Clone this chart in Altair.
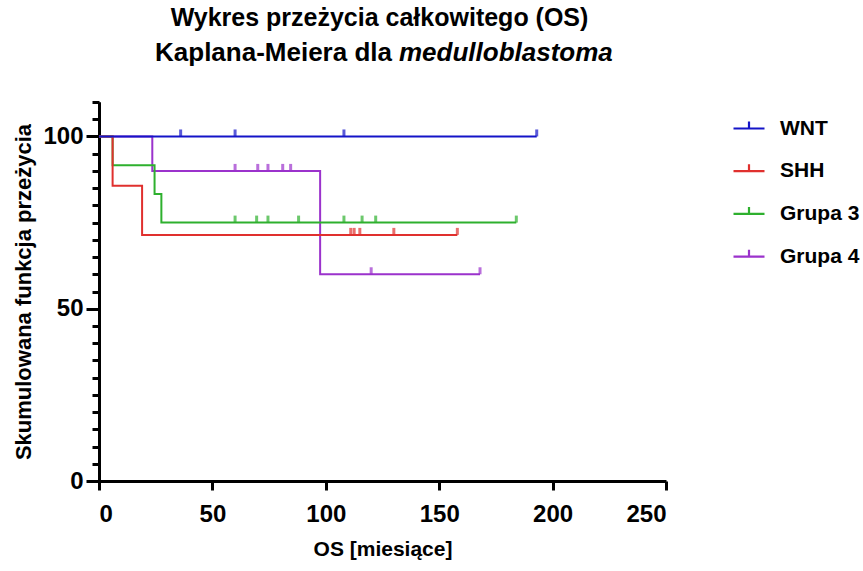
import altair as alt
import pandas as pd

FONT = "Liberation Sans, Arial, sans-serif"

groups = ["WNT", "SHH", "Grupa 3", "Grupa 4"]
colors = ["#1414C8", "#E0302E", "#2EB02E", "#9B32CC"]

# Kaplan-Meier step vertices (time in months, cumulative survival %)
wnt_t = [0, 193]
wnt_s = [100, 100]
shh_t = [0, 6, 19, 158]
shh_s = [100, 85.71, 71.43, 71.43]
g3_t = [0, 6, 24.5, 27.5, 184]
g3_s = [100, 91.67, 83.33, 75, 75]
g4_t = [0, 23.5, 97.5, 168]
g4_s = [100, 90, 60, 60]

# censored observations
wnt_ct = [36, 60, 108, 193]
wnt_cs = [100, 100, 100, 100]
shh_ct = [111, 112.5, 115, 130, 158]
shh_cs = [71.43, 71.43, 71.43, 71.43, 71.43]
g3_ct = [60, 69.5, 74.5, 88, 108, 116, 122, 184]
g3_cs = [75, 75, 75, 75, 75, 75, 75, 75]
g4_ct = [60, 70, 74.5, 81, 84.5, 120, 168]
g4_cs = [90, 90, 90, 90, 90, 60, 60]

title1 = "Wykres przeżycia całkowitego (OS)"
title2a = "Kaplana-Meiera dla"
title2b = "medulloblastoma"
x_title = "OS [miesiące]"
y_title = "Skumulowana funkcja przeżycia"

steps = pd.concat([
    pd.DataFrame({"t": g4_t, "s": g4_s, "g": "Grupa 4", "o": 0}),
    pd.DataFrame({"t": g3_t, "s": g3_s, "g": "Grupa 3", "o": 1}),
    pd.DataFrame({"t": shh_t, "s": shh_s, "g": "SHH", "o": 2}),
    pd.DataFrame({"t": wnt_t, "s": wnt_s, "g": "WNT", "o": 3}),
], ignore_index=True)

cens = pd.concat([
    pd.DataFrame({"t": g4_ct, "s": g4_cs, "g": "Grupa 4"}),
    pd.DataFrame({"t": g3_ct, "s": g3_cs, "g": "Grupa 3"}),
    pd.DataFrame({"t": shh_ct, "s": shh_cs, "g": "SHH"}),
    pd.DataFrame({"t": wnt_ct, "s": wnt_cs, "g": "WNT"}),
], ignore_index=True)

xscale = alt.Scale(domain=[0, 250], nice=False)
yscale = alt.Scale(domain=[0, 110], nice=False)
cscale = alt.Scale(domain=groups, range=colors)

x_axis = alt.Axis(values=[0, 50, 100, 150, 200, 250], tickSize=9, labelPadding=12,
                  titlePadding=12, grid=False)

lines = alt.Chart(steps).mark_line(interpolate="step-after", strokeWidth=2).encode(
    x=alt.X("t:Q", scale=xscale, title=x_title, axis=x_axis),
    y=alt.Y("s:Q", scale=yscale, title=y_title,
            axis=alt.Axis(values=[0, 50, 100], tickSize=13, labelPadding=3, orient="left",
                          titlePadding=7, titleFontSize=22, grid=False)),
    color=alt.Color("g:N", scale=cscale, title=None,
                    legend=alt.Legend(orient="none", legendX=633, legendY=9.5,
                                      symbolType="M-1,0H1M0,0V-0.45", symbolSize=961,
                                      symbolStrokeWidth=2.2, labelFont=FONT, labelFontSize=21,
                                      labelFontWeight="bold", labelColor="black",
                                      labelOffset=14, rowPadding=15.7, padding=0)),
    detail="g:N",
    order="o:Q",
)

ticks = alt.Chart(cens).mark_tick(orient="vertical", size=7, thickness=3, yOffset=-3.5).encode(
    x=alt.X("t:Q", scale=xscale, title=x_title, axis=x_axis),
    y=alt.Y("s:Q", scale=yscale,
            axis=alt.Axis(values=list(range(0, 111, 5)), tickSize=7, labels=False, title=None,
                          orient="left", grid=False)),
    color=alt.Color("g:N", scale=cscale, legend=None),
)

tdf = pd.DataFrame({"a": [1]})
t1 = alt.Chart(tdf).mark_text(font=FONT, fontSize=25, fontWeight="bold", align="center",
                              baseline="middle", color="black").encode(
    x=alt.value(280.5), y=alt.value(-84), text=alt.value(title1))
t2a = alt.Chart(tdf).mark_text(font=FONT, fontSize=26, fontWeight="bold", align="right",
                               baseline="middle", color="black").encode(
    x=alt.value(293), y=alt.value(-49), text=alt.value(title2a))
t2b = alt.Chart(tdf).mark_text(font=FONT, fontSize=26, fontWeight="bold", fontStyle="italic",
                               align="left", baseline="middle", color="black").encode(
    x=alt.value(300), y=alt.value(-49), text=alt.value(title2b))

chart = alt.layer(lines, ticks, t1, t2a, t2b).resolve_scale(y="shared", x="shared").resolve_axis(
    y="independent"
).properties(
    width=567, height=379,
    autosize=alt.AutoSizeParams(type="none"),
    padding={"left": 99, "top": 102, "right": 197, "bottom": 90},
).configure_view(stroke=None).configure_axis(
    domainColor="black", domainWidth=3, tickColor="black", tickWidth=3,
    labelFont=FONT, labelFontSize=24, labelFontWeight="bold", labelColor="black",
    titleFont=FONT, titleFontSize=21, titleFontWeight="bold", titleColor="black",
)

chart.save("out.html", embed_options={"renderer": "svg", "actions": False})
